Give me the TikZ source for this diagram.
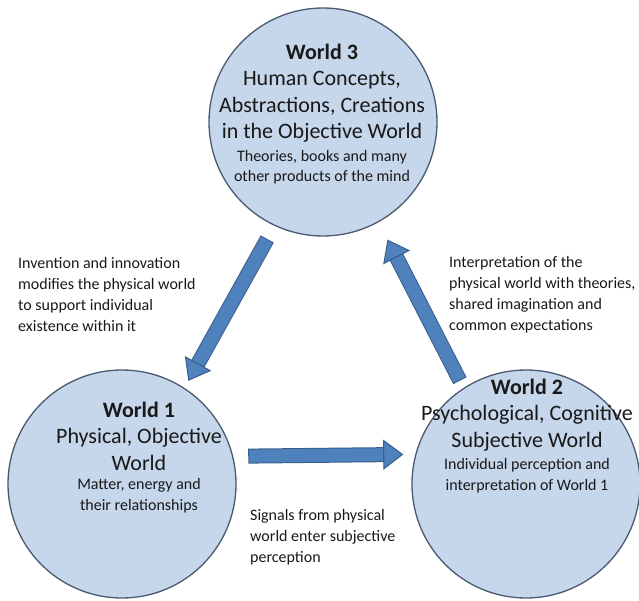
\documentclass[tikz,border=0pt]{standalone}
\usepackage{fontspec}
\setmainfont{Carlito}
\usetikzlibrary{arrows.meta}

\definecolor{worldfill}{RGB}{198,214,235}
\definecolor{worldline}{RGB}{74,90,112}
\definecolor{arrowfill}{RGB}{79,129,189}
\definecolor{arrowline}{RGB}{56,93,138}
\definecolor{textcol}{RGB}{25,25,25}

\tikzset{
  world/.style={circle, draw=worldline, fill=worldfill, line width=1.3pt,
    minimum size=228pt, inner sep=0pt},
  bigtext/.style={align=center, text=textcol, inner sep=0pt,
    font=\fontsize{22}{26.5}\selectfont},
  smalltext/.style={align=center, text=textcol, inner sep=0pt,
    font=\fontsize{16}{20.5}\selectfont},
  sidetext/.style={align=left, text=textcol, inner sep=0pt, anchor=west,
    font=\fontsize{16}{21}\selectfont},
  flow/.style 2 args={line width=13pt, draw=arrowfill,
    shorten <=#1, shorten >=#2,
    -{Triangle[length=20pt,width=30pt,line width=1pt,color=arrowline,fill=arrowfill]},
    preaction={draw=arrowline, line width=15pt, -,
      shorten <=#1-1pt, shorten >=#2+19pt}}
}

\begin{document}
\begin{tikzpicture}[x=1pt,y=1pt]
	\useasboundingbox (0,0) rectangle (639,600);

	% the three worlds
	\node[world] (w3) at (323,478){};
	\node[world] (w1) at (122,116){};
	\node[world] (w2) at (526,116){};

	\node[bigtext] (w3big) at (322,507){\textbf{World 3}\\Human Concepts,\\Abstractions, Creations\\in the Objective World};
	\node[smalltext] (w3small) at (322,433){Theories, books and many\\other products of the mind};

	\node[bigtext] (w1big) at (139,164){\textbf{World 1}\\Physical, Objective\\World};
	\node[smalltext] (w1small) at (139,104.5){Matter, energy and\\their relationships};

	\node[bigtext] (w2big) at (527,185){\textbf{World 2}\\Psychological, Cognitive\\Subjective World};
	\node[smalltext] (w2small) at (527,124.5){Individual perception and\\interpretation of World 1};

	% arrows between the worlds
	\draw[flow={16pt}{8pt}] (w3.245) -- (w1.57);
	\draw[flow={9pt}{19.5pt}] (w2.123) -- (w3.299);
	\draw[flow={16pt}{12pt}] (w1.14.5) -- (w2.165.5);

	\node[sidetext] (inventlbl) at (18,305.5){Invention and innovation\\modifies the physical world\\to support individual\\existence within it};
	\node[sidetext] (interplbl) at (449,305.5){Interpretation of the\\physical world with theories,\\shared imagination and\\common expectations};
	\node[sidetext] (signallbl) at (250,63){Signals from physical\\world enter subjective\\perception};
\end{tikzpicture}
\end{document}
